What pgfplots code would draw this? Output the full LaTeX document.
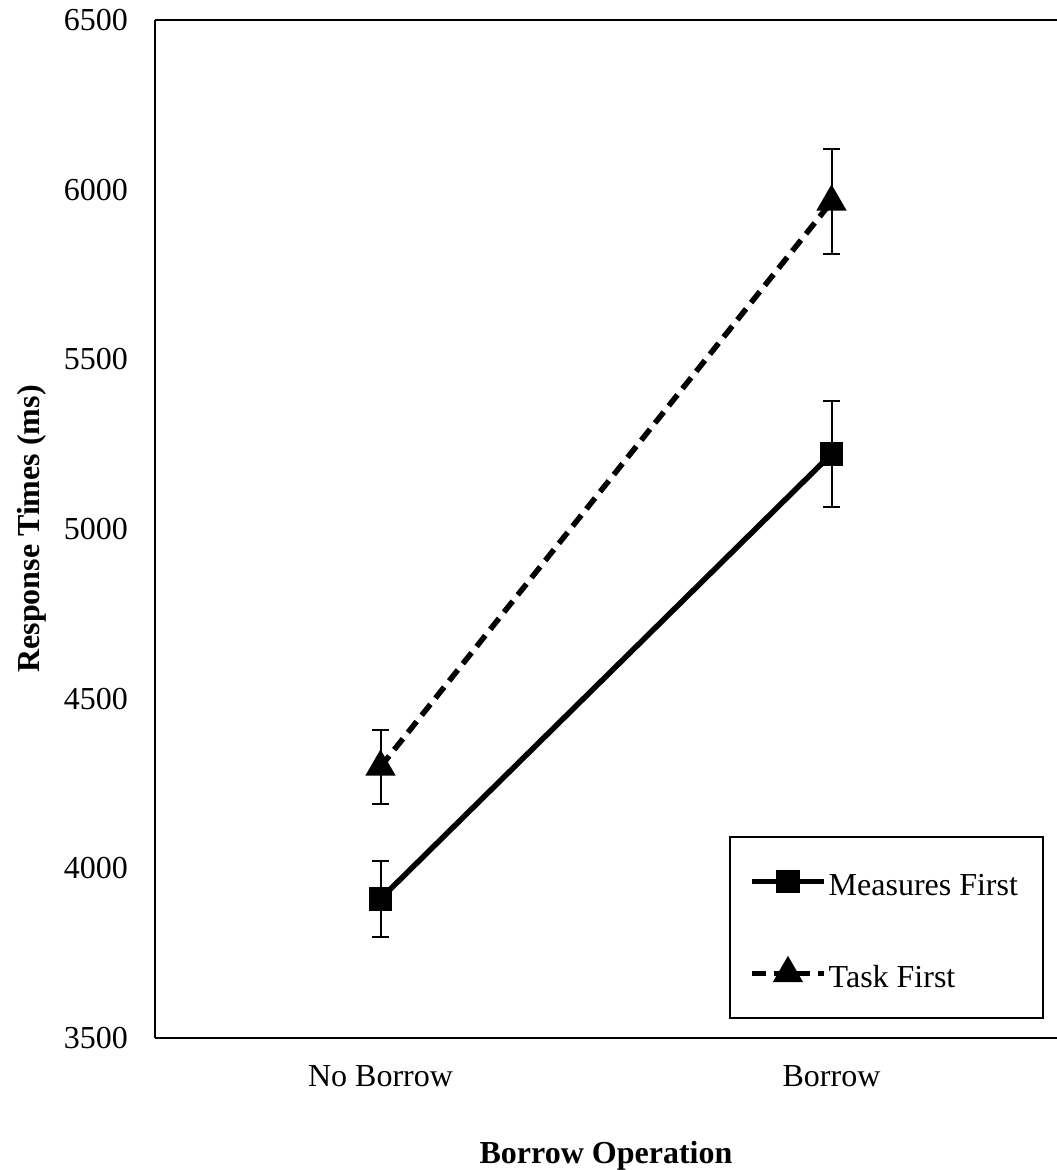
\documentclass[border=0pt]{standalone}
\usepackage{fontspec}
\setmainfont{Liberation Serif}
\usepackage{pgfplots}
\pgfplotsset{compat=1.18}

% mean response times with error-bar half widths
\pgfplotstableread{
x y e
0 3910 113
1 5221 156
}\measuresfirst
\pgfplotstableread{
x y e
0 4299 109
1 5964 155
}\taskfirst

\begin{document}
\begin{tikzpicture}
\begin{axis}[
  width=451pt, height=509pt, scale only axis,
  xmin=-0.5, xmax=1.5, ymin=3500, ymax=6500,
  xtick={0,1}, xticklabels={No Borrow, Borrow},
  ytick={3500,4000,...,6500},
  major tick length=0pt,
  axis x line=box, axis y line=left,
  axis line style={-, line width=1pt, black},
  /pgf/number format/assume math mode=true,
  /pgf/number format/1000 sep={},
  scaled y ticks=false,
  tick label style={font=\fontsize{16}{19}\selectfont},
  xticklabel style={yshift=-10pt},
  yticklabel style={xshift=-10pt},
  xlabel={Borrow Operation},
  ylabel={Response Times (ms)},
  label style={font=\fontsize{16}{19}\selectfont\bfseries},
  xlabel style={at={(axis description cs:0.5,-0.116)}, anchor=center},
  ylabel style={at={(axis description cs:-0.1367,0.5)}, anchor=center},
  legend style={at={(axis description cs:0.9856,0.0187)}, anchor=south east,
    draw=black, line width=1pt, inner xsep=9.5pt, inner ysep=10pt,
    row sep=21.4pt, font=\fontsize{16}{19}\selectfont,
    cells={anchor=west},
    nodes={inner xsep=1pt, inner ysep=0pt, text height=19.6pt, text depth=5pt}},
  legend image code/.code={\draw[mark repeat=2, mark phase=2]
    plot coordinates {(0pt,0pt) (18pt,0pt) (36pt,0pt)};},
]
\addplot[black, line width=2.75pt, mark=square*, mark size=4.5pt,
  mark options={solid},
  error bars/.cd, y dir=both, y explicit,
  error bar style={line width=1pt, solid},
  error mark options={rotate=90, mark size=4.25pt, line width=1pt, solid}]
  table[x=x, y=y, y error=e] {\measuresfirst};
\addlegendentry{Measures First\hspace*{2pt}}
\addplot[black, line width=2.75pt, dash pattern=on 7pt off 4pt,
  mark=triangle*, mark size=6pt, mark options={solid},
  error bars/.cd, y dir=both, y explicit,
  error bar style={line width=1pt, solid},
  error mark options={rotate=90, mark size=4.25pt, line width=1pt, solid}]
  table[x=x, y=y, y error=e] {\taskfirst};
\addlegendentry{Task First}
\end{axis}
\pgfresetboundingbox
\path (current axis.south west) ++(-77.5pt,-66pt) rectangle ([yshift=10pt]current axis.north east);
\end{tikzpicture}
\end{document}
